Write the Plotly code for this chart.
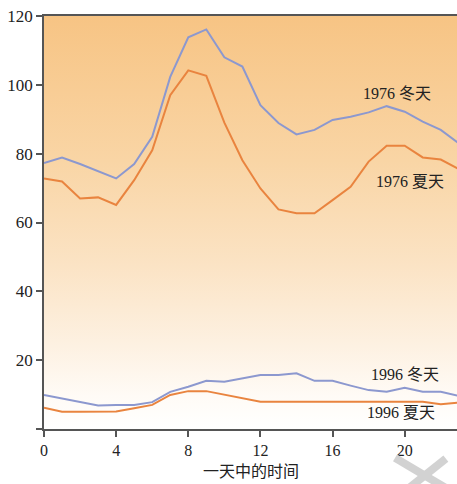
import plotly.graph_objects as go

hours = list(range(24))
winter_1976 = [77.3, 78.9, 77, 75, 72.8, 77, 84.9, 102.3, 113.8, 116.1, 108, 105.3, 94.1, 88.9, 85.6, 86.9,
               89.8, 90.7, 92, 93.8, 92.2, 89.3, 86.9, 83]
summer_1976 = [72.8, 71.9, 67, 67.3, 65.1, 72.3, 81, 97, 104.2, 102.6, 89, 78.1, 69.9, 63.8, 62.7, 62.7,
               66.5, 70.4, 77.7, 82.3, 82.3, 78.9, 78.3, 75.5]
winter_1996 = [9.9, 8.9, 7.9, 6.8, 7, 7, 7.8, 10.8, 12.3, 14, 13.7, 14.7, 15.7, 15.7, 16.2, 14,
               14, 12.6, 11.3, 10.8, 12, 10.8, 10.8, 9.6]
summer_1996 = [6.2, 5, 5, 5, 5.1, 6, 7, 9.9, 11, 11, 9.9, 8.9, 7.9, 7.9, 7.9, 7.9,
               7.9, 7.9, 7.9, 7.9, 7.9, 7.9, 7.2, 7.7]

x_ticks = [0, 4, 8, 12, 16, 20]
y_ticks = [0, 20, 40, 60, 80, 100, 120]
y_ticktext = ["", "20", "40", "60", "80", "100", "120"]

labels = ["1976 冬天", "1976 夏天", "1996 冬天", "1996 夏天"]
label_x = [19.55, 20.3, 20.0, 19.8]
label_y = [97.6, 71.8, 15.7, 4.7]
x_title = "一天中的时间"

BLUE = "#8c98cf"
ORANGE = "#e9843f"
SERIF = "Liberation Serif, Noto Sans CJK SC, serif"
AXIS = "#555555"

x_max = 22.9

fig = go.Figure()

# background gradient
fig.add_trace(go.Scatter(
    x=[0, x_max, x_max, 0, 0], y=[0, 0, 120, 120, 0],
    mode="none", fill="toself", hoverinfo="skip", showlegend=False,
    fillgradient=dict(type="vertical", start=0, stop=120,
                      colorscale=[[0, "#ffffff"], [0.08, "#fffbf6"], [0.2, "#fdf1e2"],
                                  [0.4, "#fbe3c4"], [0.65, "#f9d5a5"], [1, "#f7c484"]]),
))

for ys, col in [(winter_1976, BLUE), (summer_1976, ORANGE), (winter_1996, BLUE), (summer_1996, ORANGE)]:
    fig.add_trace(go.Scatter(x=hours, y=ys, mode="lines", line=dict(color=col, width=2),
                             showlegend=False, hoverinfo="skip"))

for t, xv, yv in zip(labels, label_x, label_y):
    fig.add_annotation(x=xv, y=yv, text=t, showarrow=False,
                       font=dict(family=SERIF, size=16, color="#222222"))

# x-axis title
fig.add_annotation(x=0.5, y=0, xref="paper", yref="paper", yanchor="middle", yshift=-41,
                   text=x_title, showarrow=False,
                   font=dict(family="Noto Sans CJK SC", size=16, color="#222222"))

# watermark cross
fig.add_shape(type="line", xref="paper", yref="paper", x0=0.85, y0=-0.07, x1=0.985, y1=-0.15,
              line=dict(color="#d2d2d2", width=8))
fig.add_shape(type="line", xref="paper", yref="paper", x0=0.973, y0=-0.072, x1=0.875, y1=-0.15,
              line=dict(color="#d2d2d2", width=8))

fig.update_layout(
    width=457, height=484,
    margin=dict(l=44, r=0, t=16, b=55),
    paper_bgcolor="white", plot_bgcolor="white",
    font=dict(family=SERIF, color="#222222"),
    xaxis=dict(range=[0, x_max], tickvals=x_ticks, ticks="outside", ticklen=6, tickwidth=1.5,
               tickcolor=AXIS, showline=True, linecolor=AXIS, linewidth=1.5, mirror=True,
               showgrid=False, zeroline=False, tickfont=dict(size=16), automargin=False),
    yaxis=dict(range=[0, 120], tickvals=y_ticks, ticktext=y_ticktext, ticks="outside", ticklen=6,
               tickwidth=1.5, tickcolor=AXIS, showline=True, linecolor=AXIS, linewidth=1.5,
               showgrid=False, zeroline=False, tickfont=dict(size=17), automargin=False),
)

fig.write_html("out.html", config={"displayModeBar": False},
               post_script="document.body.style.margin='0';document.body.style.overflow='hidden';")
